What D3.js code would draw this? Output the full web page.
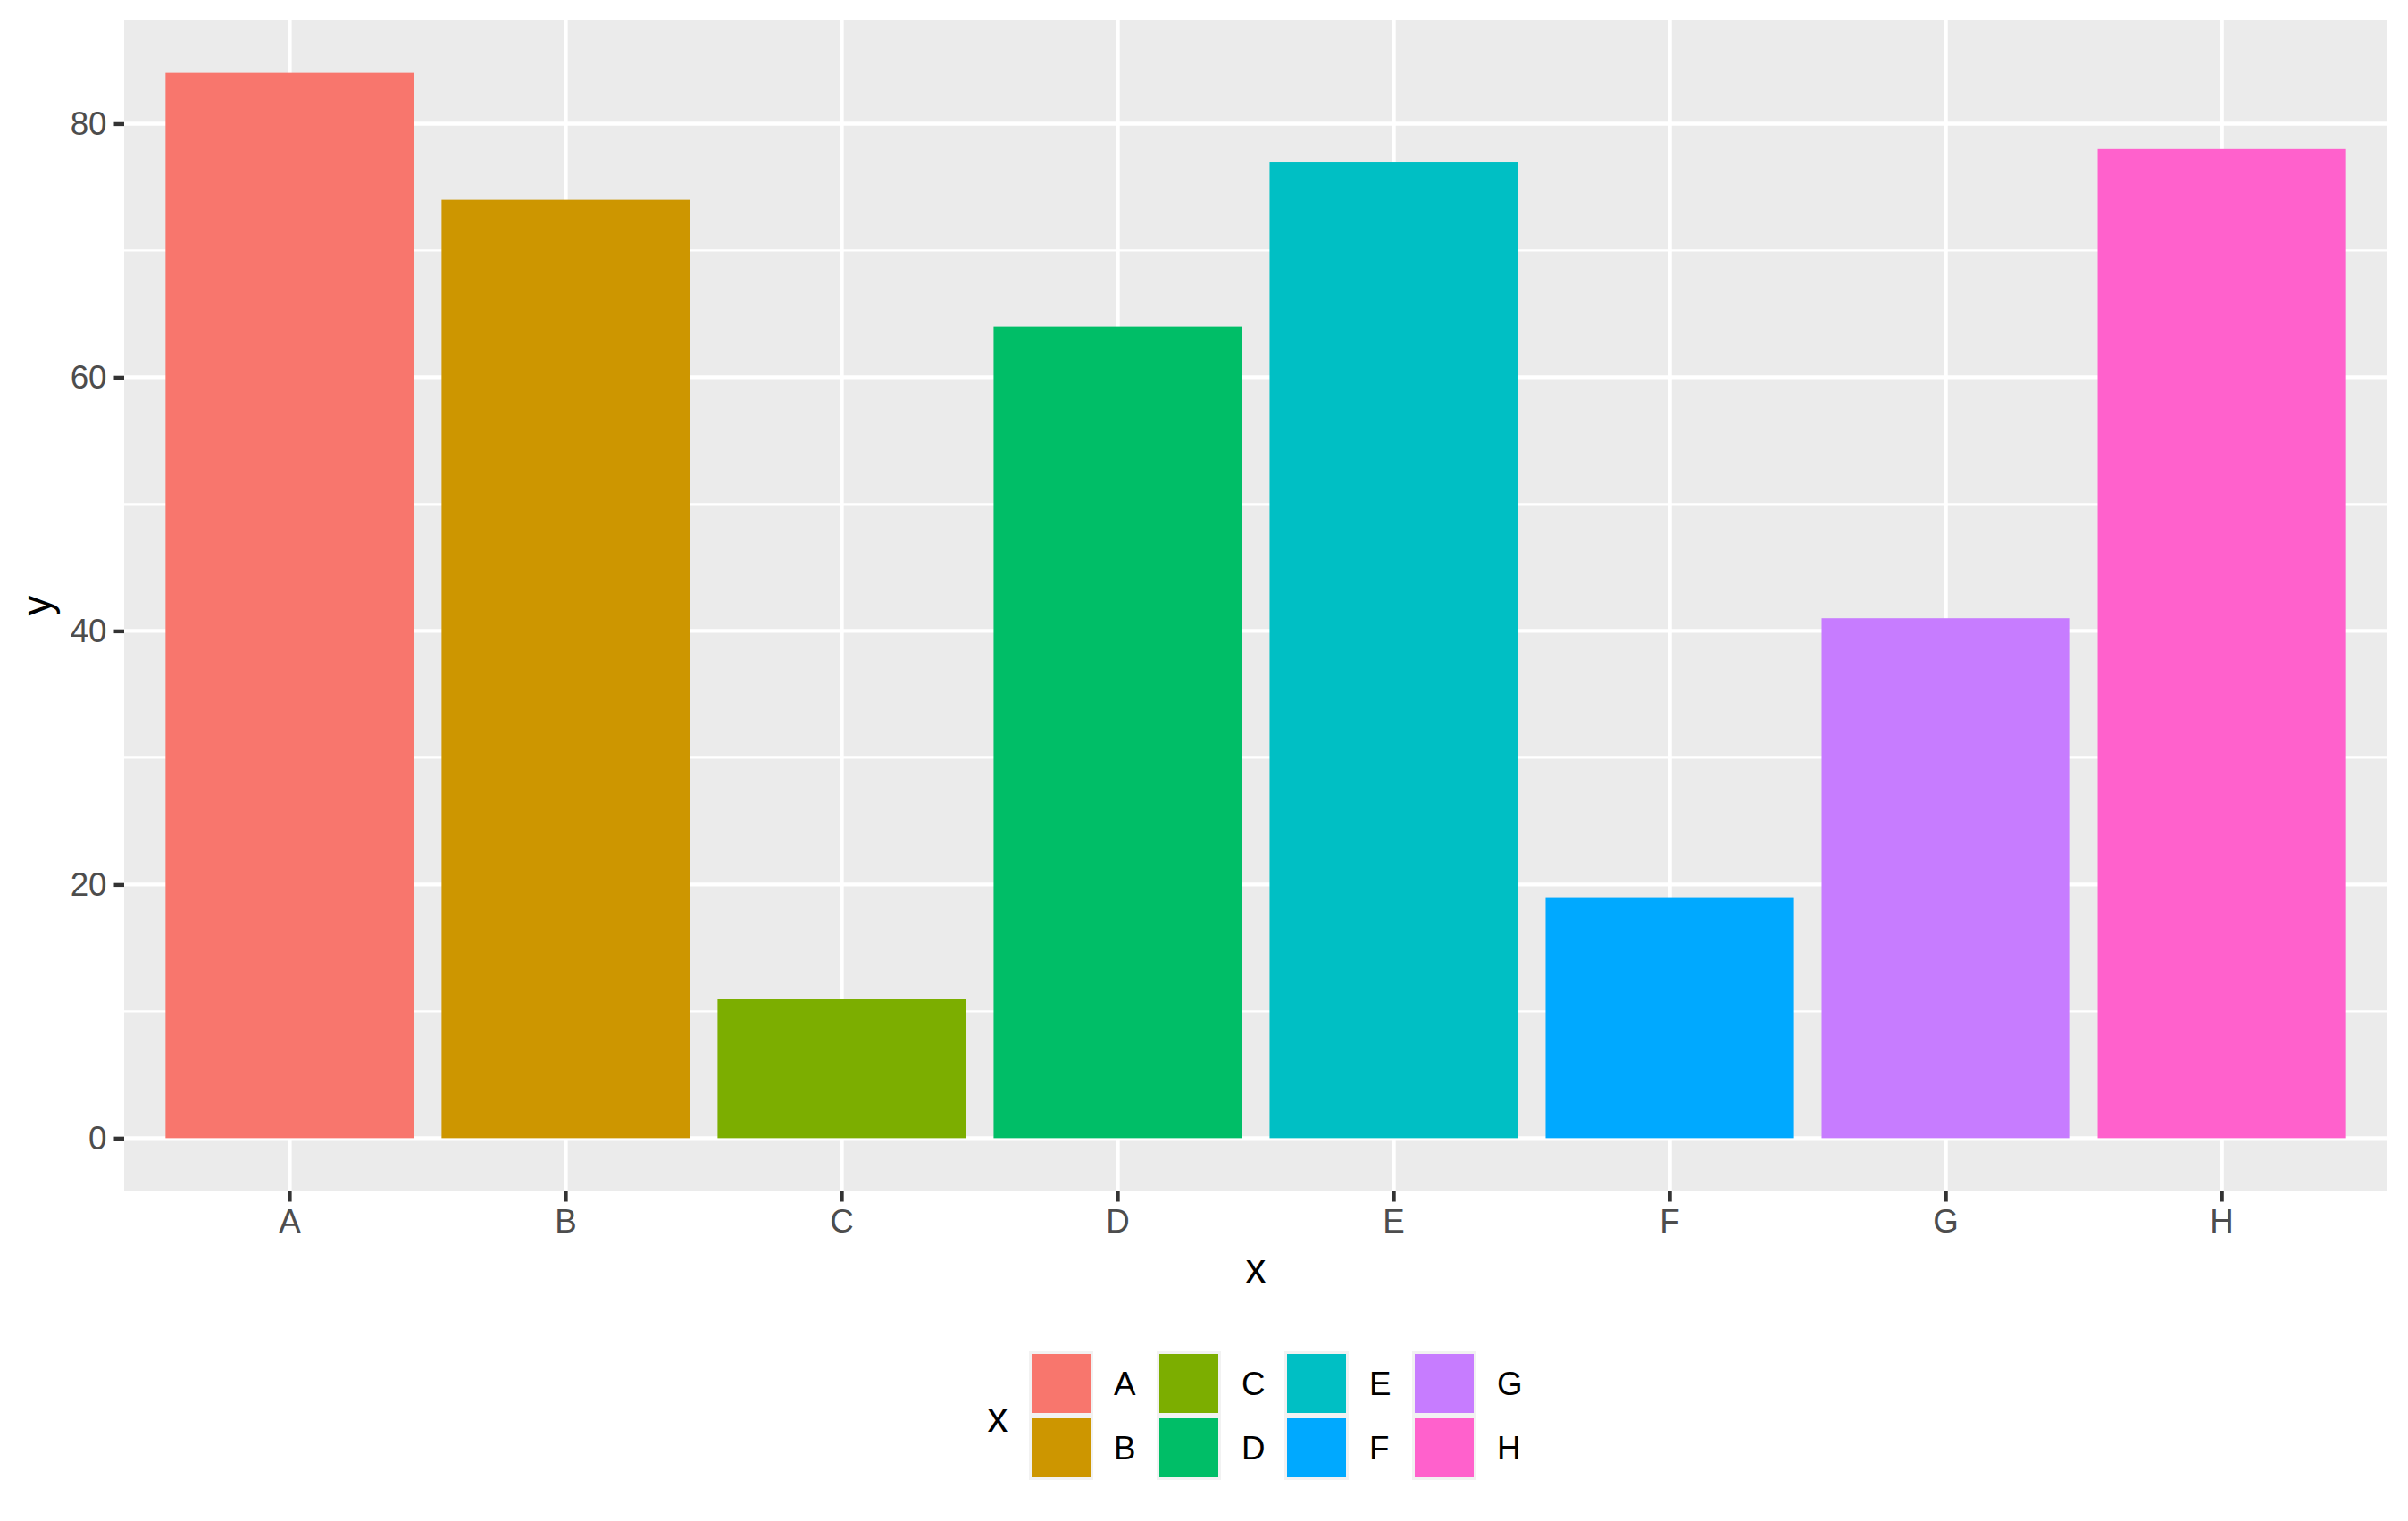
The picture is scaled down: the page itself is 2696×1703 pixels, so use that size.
<!DOCTYPE html>
<html>
<head>
<meta charset="utf-8">
<script src="https://cdn.jsdelivr.net/npm/d3@7"></script>
<style>
  body { margin: 0; background: #fff; }
  text { font-family: "Liberation Sans", Arial, sans-serif; }
</style>
</head>
<body>
<div id="chart"></div>
<script>
var categories = ["A", "B", "C", "D", "E", "F", "G", "H"];
var values = [84, 74, 11, 64, 77, 19, 41, 78];
var colors = ["#F8766D", "#CD9600", "#7CAE00", "#00BE67", "#00BFC4", "#00A9FF", "#C77CFF", "#FF61CC"];
var yTicks = [0, 20, 40, 60, 80];
var yMinor = [10, 30, 50, 70];

var W = 2696, H = 1703;
var panel = { left: 139, right: 2673, top: 22, bottom: 1334 };

var svg = d3.select("#chart").append("svg")
    .attr("width", W)
    .attr("height", H);

var maxV = d3.max(values);
var y = d3.scaleLinear()
    .domain([-0.05 * maxV, maxV * 1.05])
    .range([panel.bottom, panel.top]);

var x = d3.scaleBand()
    .domain(categories)
    .range([panel.left, panel.right])
    .paddingInner(0.1)
    .paddingOuter(0.15);

// panel background
svg.append("rect")
    .attr("x", panel.left)
    .attr("y", panel.top)
    .attr("width", panel.right - panel.left)
    .attr("height", panel.bottom - panel.top)
    .attr("fill", "#EBEBEB");

// grid lines
svg.selectAll(".minor").data(yMinor).enter().append("line")
    .attr("x1", panel.left).attr("x2", panel.right)
    .attr("y1", d => y(d)).attr("y2", d => y(d))
    .attr("stroke", "#fff").attr("stroke-width", 2.2);

svg.selectAll(".majory").data(yTicks).enter().append("line")
    .attr("x1", panel.left).attr("x2", panel.right)
    .attr("y1", d => y(d)).attr("y2", d => y(d))
    .attr("stroke", "#fff").attr("stroke-width", 4.4);

svg.selectAll(".majorx").data(categories).enter().append("line")
    .attr("x1", d => x(d) + x.bandwidth() / 2).attr("x2", d => x(d) + x.bandwidth() / 2)
    .attr("y1", panel.top).attr("y2", panel.bottom)
    .attr("stroke", "#fff").attr("stroke-width", 4.4);

// bars
svg.selectAll(".bar").data(categories).enter().append("rect")
    .attr("x", d => x(d))
    .attr("width", x.bandwidth())
    .attr("y", (d, i) => y(values[i]))
    .attr("height", (d, i) => y(0) - y(values[i]))
    .attr("fill", (d, i) => colors[i]);

// axes
var yAxis = d3.axisLeft(y).tickValues(yTicks).tickSize(11.5).tickPadding(8);
var gy = svg.append("g").attr("transform", "translate(" + panel.left + ",0)").call(yAxis);
gy.select(".domain").remove();
gy.selectAll("line").attr("stroke", "#333333").attr("stroke-width", 4.4);
gy.selectAll("text").attr("fill", "#4D4D4D").style("font-size", "36.7px")
    .style("font-family", "Liberation Sans, Arial, sans-serif");

var xAxis = d3.axisBottom(x).tickSize(11.5).tickPadding(8);
var gx = svg.append("g").attr("transform", "translate(0," + panel.bottom + ")").call(xAxis);
gx.select(".domain").remove();
gx.selectAll("line").attr("stroke", "#333333").attr("stroke-width", 4.4);
gx.selectAll("text").attr("fill", "#4D4D4D").style("font-size", "36.7px")
    .style("font-family", "Liberation Sans, Arial, sans-serif");

// axis titles
svg.append("text")
    .attr("x", (panel.left + panel.right) / 2)
    .attr("y", 1436)
    .attr("text-anchor", "middle")
    .style("font-size", "45.8px")
    .text("x");

svg.append("text")
    .attr("transform", "translate(57," + (panel.top + panel.bottom) / 2 + ") rotate(-90)")
    .attr("text-anchor", "middle")
    .style("font-size", "45.8px")
    .text("y");

// legend
var keySize = 72, colStep = 143, legX = 1152, legY = 1513;
var legend = svg.append("g");

legend.append("text")
    .attr("x", 1117)
    .attr("y", 1603)
    .attr("text-anchor", "middle")
    .style("font-size", "45.8px")
    .text("x");

var items = legend.selectAll(".key").data(categories).enter().append("g")
    .attr("transform", (d, i) => "translate(" + (legX + Math.floor(i / 2) * colStep) + "," + (legY + (i % 2) * keySize) + ")");

items.append("rect")
    .attr("width", keySize).attr("height", keySize)
    .attr("fill", "#F2F2F2");

items.append("rect")
    .attr("x", 3).attr("y", 3)
    .attr("width", keySize - 6).attr("height", keySize - 6)
    .attr("fill", (d, i) => colors[i]);

items.append("text")
    .attr("x", keySize + 23)
    .attr("y", keySize / 2 + 13)
    .style("font-size", "36.7px")
    .attr("fill", "#000")
    .text(d => d);
</script>
</body>
</html>
